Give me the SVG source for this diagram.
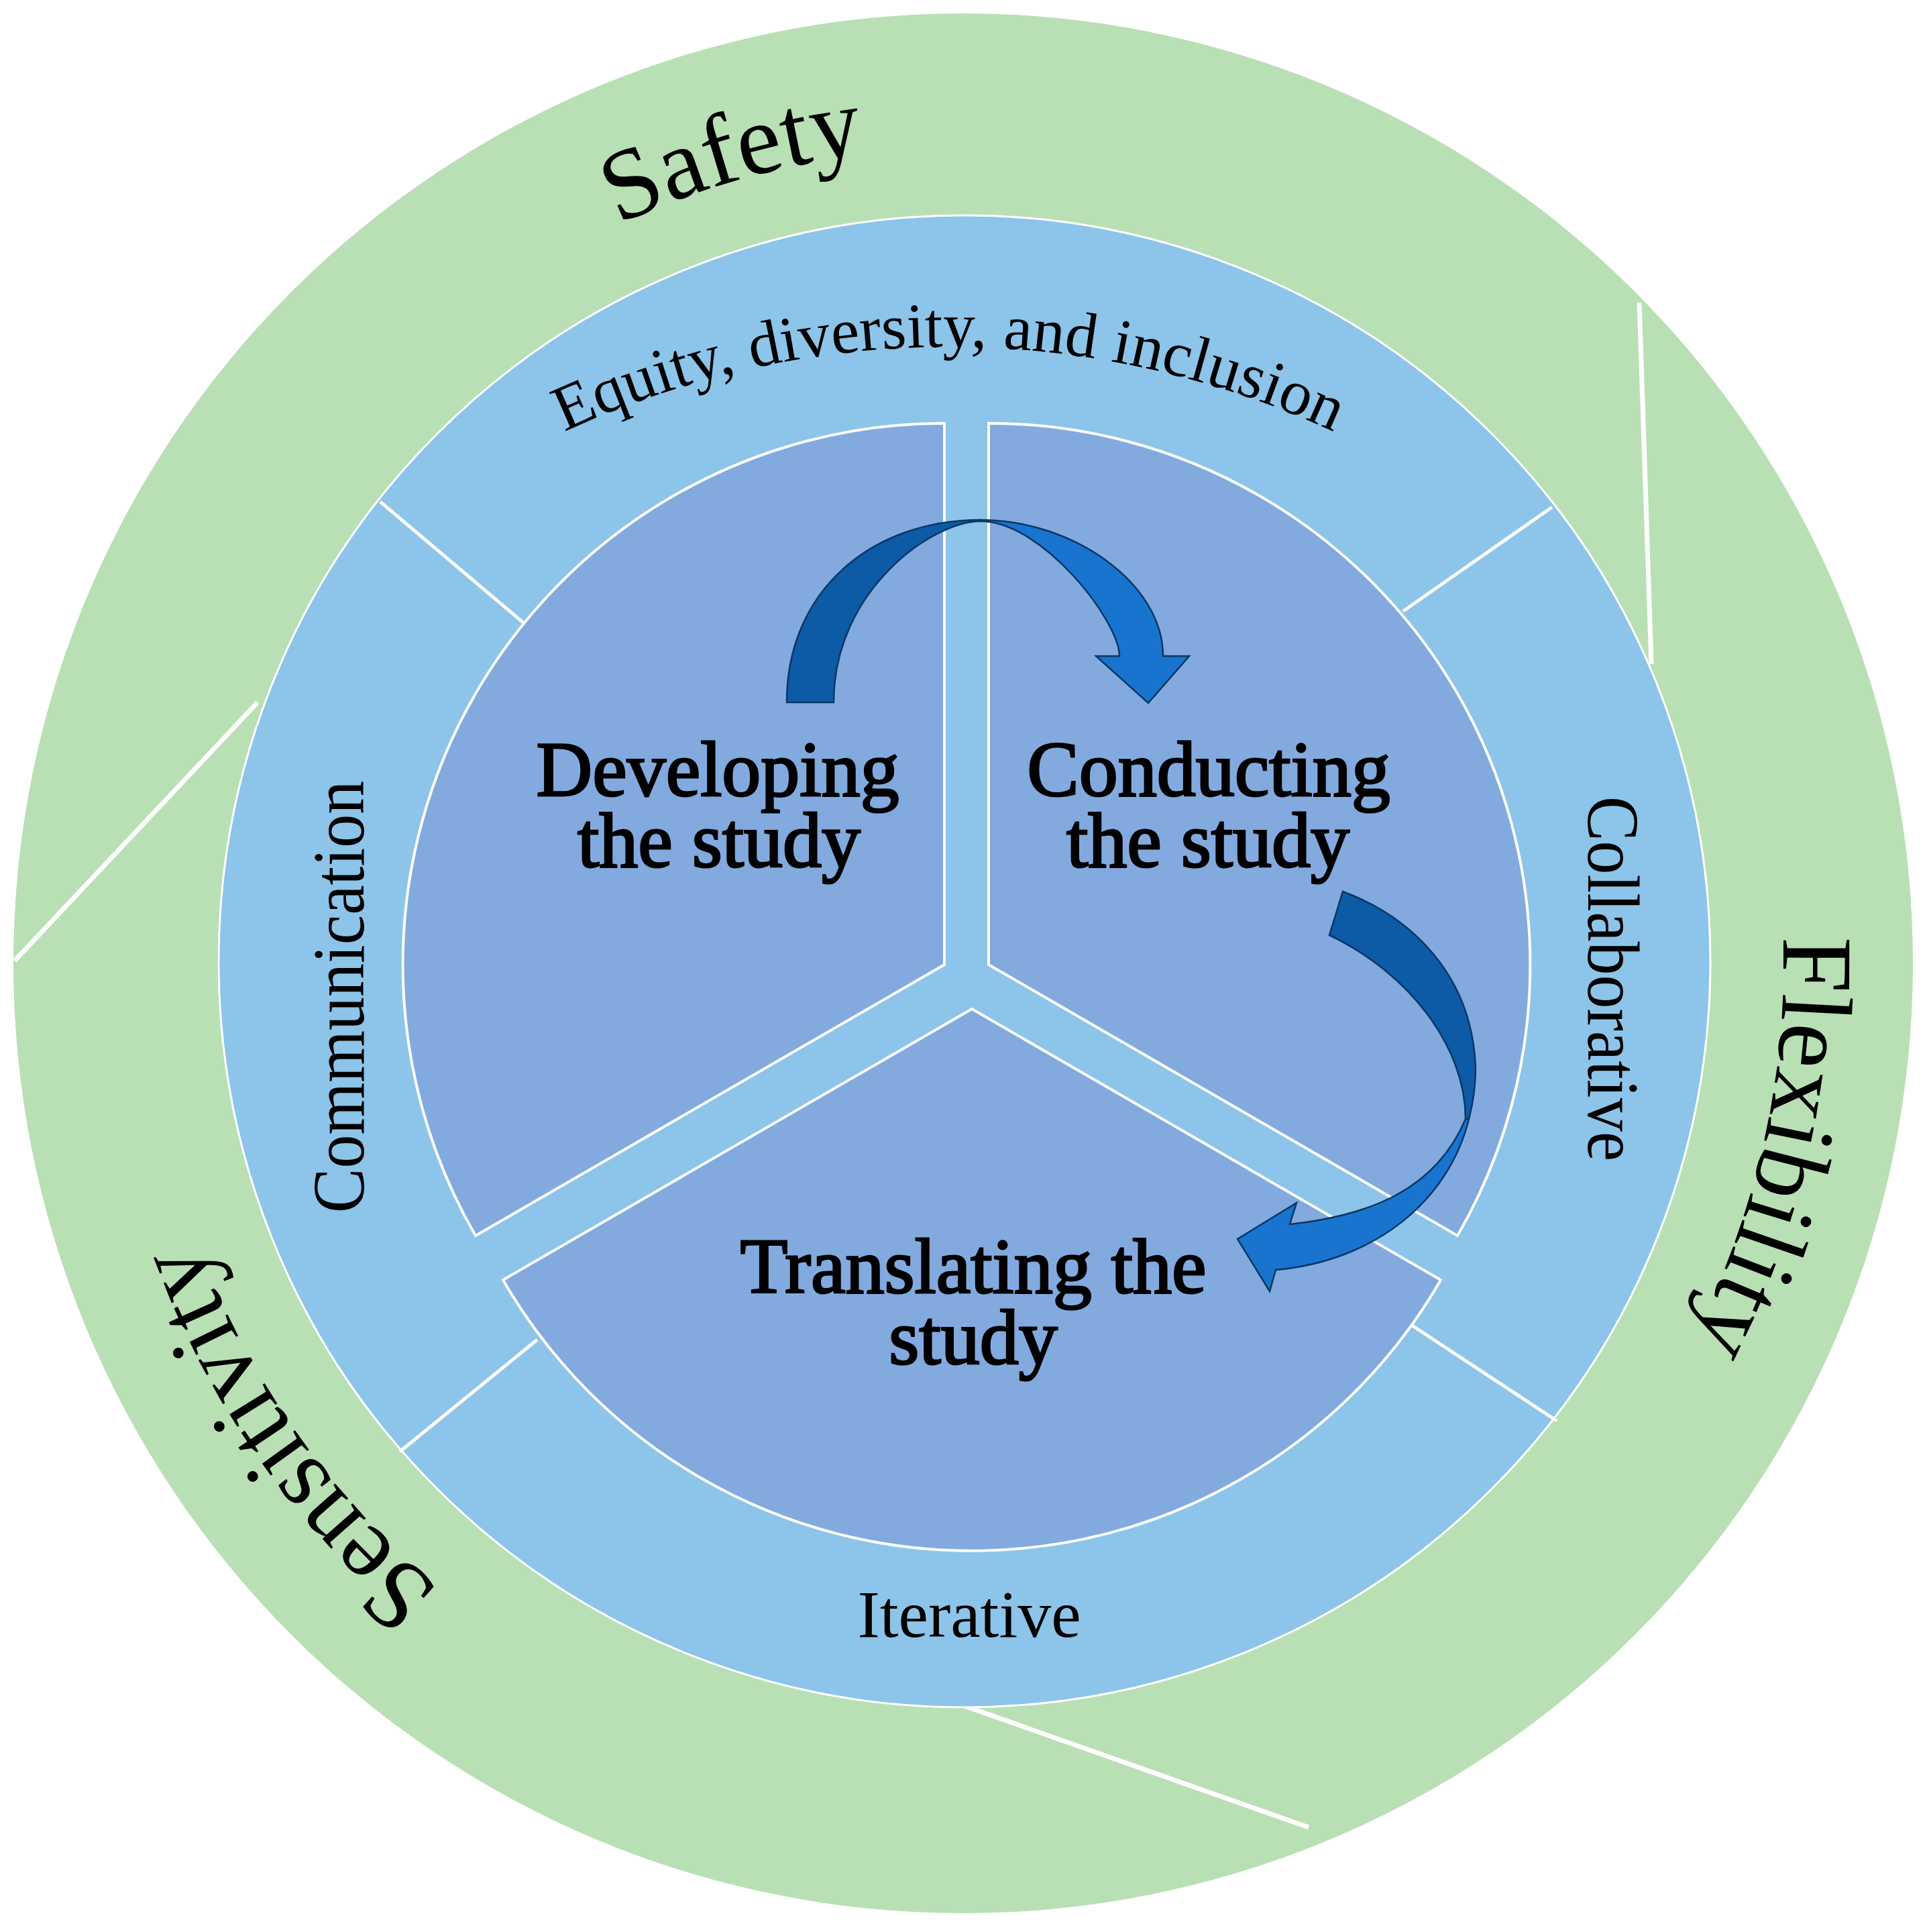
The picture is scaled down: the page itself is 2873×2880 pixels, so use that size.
<svg xmlns="http://www.w3.org/2000/svg" width="2873" height="2880" viewBox="0 0 2873 2880">
<defs>
<style>
.lbl{font-family:"Liberation Serif","Times New Roman",serif;fill:#000;}
.outer{font-size:150px;}
.ring{font-size:100px;}
.arc{font-size:95.5px;}
.core{font-size:116px;stroke:#000;stroke-width:3px;text-anchor:middle;}
.sep{stroke:#fff;fill:none;stroke-linecap:butt;}
.sector{fill:#82AADF;stroke:#fff;stroke-width:4;stroke-linejoin:miter;}
.arrowDark{fill:#0D5BA6;stroke:#0A3765;stroke-width:2.5;stroke-linejoin:miter;}
.arrowLight{fill:#1874CE;stroke:#0A3765;stroke-width:2.5;stroke-linejoin:miter;}
</style>
<path id="pSafety" d="M562,591.9 A1215,1215 0 0 1 1729.9,257.1"/>
<path id="pFlex" d="M2591,1033.8 A1223,1223 0 0 1 2303.8,2297.7"/>
<path id="pSens" d="M922.5,2537.2 A1215,1215 0 0 1 225.6,1541.9"/>
<path id="pEquity" d="M235.5,1198 A1362,1362 0 0 1 2594.5,1198"/>
</defs>
<rect x="0" y="0" width="2873" height="2880" fill="#fff"/>

<g id="outer-ring">
<circle cx="1436" cy="1436" r="1416" fill="#B9E0B4"/>
<line class="sep" stroke-width="7" x1="2444" y1="451" x2="2462" y2="990"/>
<line class="sep" stroke-width="7" x1="384" y1="1047" x2="22" y2="1432"/>
<line class="sep" stroke-width="7" x1="1438" y1="2543" x2="1951" y2="2724"/>
</g>

<g id="middle-ring">
<circle cx="1438" cy="1433" r="1112" fill="#8DC4E9" stroke="#fff" stroke-width="3"/>
<line class="sep" stroke-width="5" x1="567" y1="748" x2="780" y2="928"/>
<line class="sep" stroke-width="5" x1="2314" y1="756" x2="2092" y2="911"/>
<line class="sep" stroke-width="5" x1="801" y1="1997" x2="596" y2="2164"/>
<line class="sep" stroke-width="5" x1="2104" y1="1975" x2="2321" y2="2118"/>
</g>

<g id="node-developing">
<path class="sector" d="M1408,1438 L1408,631 A807,807 0 0 0 709,1842 Z"/>
<text class="lbl core" x="1070" y="1186">Developing</text>
<text class="lbl core" x="1072" y="1292">the study</text>
</g>

<g id="node-conducting">
<path class="sector" d="M1474,1438 L1474,631 A807,807 0 0 1 2173,1842 Z"/>
<text class="lbl core" x="1802" y="1186">Conducting</text>
<text class="lbl core" x="1801" y="1292">the study</text>
</g>

<g id="node-translating">
<path class="sector" d="M1449,1504 L2148,1908 A807,807 0 0 1 750,1908 Z"/>
<text class="lbl core" x="1451" y="1927">Translating the</text>
<text class="lbl core" x="1451" y="2033">study</text>
</g>

<g id="connectors">
<path class="arrowDark" d="M1173,1047 C1173,880 1300,775 1462,775 L1462,777 C1390,777 1243,880 1243,1047 Z"/>
<path class="arrowLight" d="M1462,775 C1600,775 1734,870 1734,978 L1773,978 L1712,1048 L1634,978 L1669,978 C1669,926 1554,777 1462,777 Z"/>
<path class="arrowDark" d="M2002,1329 C2100,1365 2195,1450 2200,1592 C2200,1620 2196,1645 2190,1668 L2185,1668 C2185,1560 2100,1450 1982,1394 Z"/>
<path class="arrowLight" d="M2190,1668 C2160,1790 2050,1880 1902,1893 L1893,1925 L1845,1847 L1933,1793 L1923,1825 C2040,1812 2140,1775 2185,1668 Z"/>
</g>

<g id="labels-outer">
<text class="lbl outer"><textPath href="#pSafety" startOffset="50%" text-anchor="middle">Safety</textPath></text>
<text class="lbl outer"><textPath href="#pFlex" startOffset="50%" text-anchor="middle">Flexibility</textPath></text>
<text class="lbl outer"><textPath href="#pSens" startOffset="50%" text-anchor="middle">Sensitivity</textPath></text>
</g>

<g id="labels-ring">
<text class="lbl arc"><textPath href="#pEquity" startOffset="50%" text-anchor="middle">Equity, diversity, and inclusion</textPath></text>
<text class="lbl ring" text-anchor="middle" transform="translate(542,1486) rotate(-90) scale(1,1.1)">Communication</text>
<text class="lbl ring" text-anchor="middle" transform="translate(2368,1459) rotate(90) scale(1,1.1)">Collaborative</text>
<text class="lbl ring" text-anchor="middle" x="1445" y="2440">Iterative</text>
</g>
</svg>
